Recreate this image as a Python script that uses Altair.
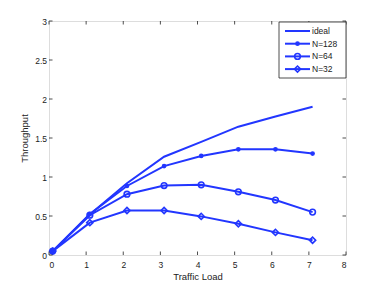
import altair as alt
import pandas as pd

x_load = [0.1, 1.1, 2.1, 3.1, 4.1, 5.1, 6.1, 7.1]
ideal = [0.05, 0.52, 0.92, 1.26, 1.45, 1.645, 1.775, 1.90]
n128 = [0.05, 0.525, 0.885, 1.14, 1.27, 1.355, 1.355, 1.30]
n64 = [0.05, 0.51, 0.78, 0.89, 0.90, 0.81, 0.705, 0.55]
n32 = [0.05, 0.415, 0.57, 0.57, 0.495, 0.40, 0.29, 0.19]
series_names = ["ideal", "N=128", "N=64", "N=32"]
x_ticks = [0, 1, 2, 3, 4, 5, 6, 7, 8]
y_ticks = [0, 0.5, 1, 1.5, 2, 2.5, 3]

BLUE = "#2236ff"
FONT = "Liberation Sans"
W, H = 297, 234

rows = []
for name, vals in zip(series_names, [ideal, n128, n64, n32]):
    for xv, yv in zip(x_load, vals):
        rows.append({"series": name, "load": xv, "thr": yv})
df = pd.DataFrame(rows)

xs = alt.Scale(domain=[0, 8], nice=False)
ys = alt.Scale(domain=[0, 3], nice=False)

common_axis = dict(grid=False, ticks=False, domain=False, labelOverlap=False,
                   labelFont=FONT, titleFont=FONT, labelFontSize=8.5, titleFontSize=9.5,
                   labelColor="#222", titleColor="#222", titleFontWeight="normal")
xaxis = alt.Axis(values=x_ticks, title="Traffic Load", labelPadding=5, titlePadding=3,
                 format="d", **common_axis)
yaxis = alt.Axis(values=y_ticks, title="Throughput", labelPadding=2.5, titlePadding=5,
                 format="~g", **common_axis)

X = lambda f: alt.X(f, scale=xs, axis=xaxis)
Y = lambda f: alt.Y(f, scale=ys, axis=yaxis)

base = alt.Chart(df)

lines = base.mark_line(color=BLUE, strokeWidth=2).encode(
    x=X("load:Q"), y=Y("thr:Q"), detail="series:N")

marker_style = {
    "N=128": dict(shape="circle", filled=True, size=22),
    "N=64": dict(shape="circle", filled=False, size=32, strokeWidth=1.6),
    "N=32": dict(shape="diamond", filled=False, size=38, strokeWidth=1.6),
}

point_layers = []
for name, st in marker_style.items():
    point_layers.append(
        base.transform_filter(alt.datum.series == name)
        .mark_point(color=BLUE, opacity=1, **st)
        .encode(x=X("load:Q"), y=Y("thr:Q"))
    )

# inward ticks
xt = pd.DataFrame({"load": x_ticks})
yt = pd.DataFrame({"thr": y_ticks})
TL = 3.5
rule_kw = dict(color="#222", strokeWidth=0.8)
xt_bot = alt.Chart(xt).mark_rule(**rule_kw).encode(x=X("load:Q"), y=alt.value(H), y2=alt.value(H - TL))
xt_top = alt.Chart(xt).mark_rule(**rule_kw).encode(x=X("load:Q"), y=alt.value(0), y2=alt.value(TL))
yt_left = alt.Chart(yt).mark_rule(**rule_kw).encode(y=Y("thr:Q"), x=alt.value(0), x2=alt.value(TL))
yt_right = alt.Chart(yt).mark_rule(**rule_kw).encode(y=Y("thr:Q"), x=alt.value(W), x2=alt.value(W - TL))

# legend (drawn inside the plot, top-right)
one = pd.DataFrame({"a": [0]})
legend_layers = [
    alt.Chart(one).mark_rect(fill="white", stroke="#222", strokeWidth=0.8).encode(
        x=alt.value(230), x2=alt.value(W), y=alt.value(1), y2=alt.value(57))
]
for i, name in enumerate(series_names):
    ly = 10 + i * 12.7
    legend_layers.append(alt.Chart(one).mark_rule(color=BLUE, strokeWidth=2).encode(
        x=alt.value(236), x2=alt.value(261), y=alt.value(ly)))
    if name in marker_style:
        legend_layers.append(alt.Chart(one).mark_point(color=BLUE, opacity=1, **marker_style[name]).encode(
            x=alt.value(248.5), y=alt.value(ly)))
    legend_layers.append(alt.Chart(one).mark_text(
        align="left", baseline="middle", font=FONT, fontSize=8.5, color="#222", text=name).encode(
        x=alt.value(263), y=alt.value(ly)))

chart = alt.layer(
    lines, *point_layers, xt_bot, xt_top, yt_left, yt_right, *legend_layers
).properties(
    width=W, height=H,
    autosize=alt.AutoSizeParams(type="none"),
    padding={"left": 41, "top": 13, "right": 20, "bottom": 30},
).configure_view(stroke="#222", strokeWidth=1).configure(background="white")

chart.save("out.html", embed_options={"renderer": "svg", "actions": False})
